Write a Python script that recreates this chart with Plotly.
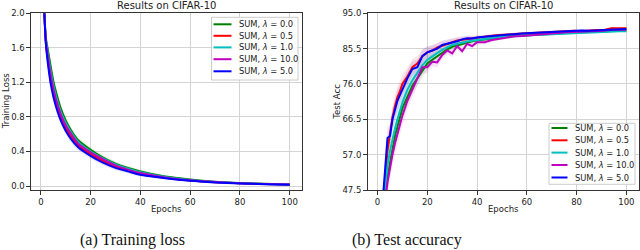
import plotly.graph_objects as go

# ---------------- data ----------------
SERIES = ["SUM, <i>λ</i> = 0.0", "SUM, <i>λ</i> = 0.5", "SUM, <i>λ</i> = 1.0",
          "SUM, <i>λ</i> = 10.0", "SUM, <i>λ</i> = 5.0"]
COLORS = ["#008000", "#ff0000", "#00bfbf", "#bf00bf", "#0000ff"]

LOSS_EPOCHS = [1, 2, 3, 4, 5, 6, 8, 10, 12, 15, 20, 25, 30, 35, 40, 50, 60, 70, 80, 90, 100]
LOSS_0 = [2.30, 1.72, 1.55, 1.38, 1.22, 1.10, 0.90, 0.76, 0.65, 0.53, 0.42, 0.33, 0.26, 0.21, 0.17, 0.11, 0.075, 0.050, 0.035, 0.025, 0.018]
LOSS_05 = [2.30, 1.67, 1.42, 1.22, 1.08, 0.96, 0.79, 0.67, 0.58, 0.47, 0.37, 0.29, 0.22, 0.18, 0.14, 0.095, 0.063, 0.044, 0.031, 0.023, 0.017]
LOSS_1 = [2.30, 1.70, 1.50, 1.32, 1.17, 1.05, 0.86, 0.73, 0.63, 0.51, 0.40, 0.32, 0.25, 0.20, 0.16, 0.105, 0.070, 0.048, 0.033, 0.024, 0.017]
LOSS_10 = [2.30, 1.69, 1.47, 1.28, 1.13, 1.01, 0.83, 0.70, 0.61, 0.49, 0.39, 0.31, 0.24, 0.19, 0.15, 0.100, 0.067, 0.046, 0.032, 0.024, 0.017]
LOSS_5 = [2.30, 1.65, 1.38, 1.18, 1.04, 0.93, 0.76, 0.64, 0.55, 0.45, 0.35, 0.27, 0.21, 0.17, 0.13, 0.090, 0.060, 0.042, 0.030, 0.022, 0.016]
LOSS_STD = [0.05, 0.05, 0.05, 0.05, 0.05, 0.05, 0.045, 0.04, 0.04, 0.035, 0.03, 0.028, 0.025, 0.022, 0.02, 0.015, 0.012, 0.01, 0.008, 0.006, 0.005]

ACC_EPOCHS = [1, 2, 3, 4, 5, 6, 7, 8, 9, 10, 12, 14, 16, 18, 20, 22, 24, 26, 28, 30, 32, 34, 36, 38, 40,
              43, 46, 49, 52, 55, 58, 61, 64, 67, 70, 73, 76, 79, 82, 85, 88, 91, 94, 97, 100]
ACC_0 = [32, 40, 46, 51, 55, 59, 62, 64.5, 67, 69.5, 72.5, 75.5, 77.5, 79.5, 81.5, 82.5, 83.5, 84.5, 85.3, 86.0,
         86.4, 86.8, 87.2, 87.5, 87.7, 88.0, 88.3, 88.6, 88.8, 88.9, 89.0, 89.2, 89.3, 89.4, 89.5, 89.6, 89.8,
         89.9, 90.0, 90.0, 90.1, 90.2, 90.4, 90.4, 90.4]
ACC_05 = [34, 43, 50, 58, 63, 67, 70, 72.5, 74, 76, 78, 80.5, 81.5, 83.5, 84.5, 85.0, 85.8, 86.3, 86.8, 87.4,
          87.7, 87.9, 88.1, 88.4, 88.6, 88.8, 89.0, 89.2, 89.3, 89.5, 89.6, 89.7, 89.8, 89.9, 90.0, 90.1, 90.3,
          90.3, 90.2, 90.4, 90.5, 90.5, 91.0, 91.0, 91.0]
ACC_1 = [33, 42, 48, 54, 58, 61.5, 64, 66.5, 69, 71, 74.5, 77, 79, 81, 82.5, 83.5, 84.3, 85.2, 85.8, 86.5,
         86.8, 87.2, 87.4, 87.6, 87.8, 88.1, 88.4, 88.6, 88.7, 88.9, 89.0, 89.1, 89.2, 89.3, 89.4, 89.6, 89.6,
         89.8, 89.7, 89.9, 89.9, 90.0, 90.2, 90.2, 90.2]
ACC_10 = [30, 38, 44, 49.5, 53.5, 57, 60, 62.5, 65, 67.5, 71.5, 74.5, 77.5, 80.5, 80.5, 82.0, 81.8, 83.8, 85.0, 84.2,
          86.2, 84.8, 86.8, 86.2, 87.2, 87.2, 87.8, 88.2, 88.5, 88.8, 88.9, 89.1, 89.3, 89.4, 89.5, 89.7, 89.9,
          90.0, 90.1, 90.0, 90.2, 90.3, 90.6, 90.6, 90.6]
ACC_5 = [35, 44, 52, 61.5, 62, 66.5, 69, 71.5, 73, 74.5, 77.5, 80, 80.5, 83.5, 84.5, 85.0, 85.5, 86.5, 86.8, 87.2,
         87.5, 88.0, 88.3, 88.2, 88.5, 88.7, 88.9, 89.2, 89.4, 89.4, 89.6, 89.7, 89.9, 90.0, 90.1, 90.0, 90.2,
         90.3, 90.4, 90.3, 90.4, 90.5, 90.8, 90.8, 90.8]
ACC_STD = [3, 3, 3, 3, 3, 3, 3, 3, 2.8, 2.6, 2.4, 2.2, 2.0, 1.8, 1.6, 1.4, 1.3, 1.2, 1.1, 1.0, 0.9, 0.8, 0.7, 0.7, 0.6,
           0.5, 0.5, 0.4, 0.4, 0.4, 0.35, 0.35, 0.3, 0.3, 0.3, 0.3, 0.3, 0.3, 0.3, 0.3, 0.3, 0.3, 0.3, 0.3, 0.3]

LOSS_TICKS = [0.0, 0.4, 0.8, 1.2, 1.6, 2.0]
ACC_TICKS = [47.5, 57.0, 66.5, 76.0, 85.5, 95.0]
X_TICKS = [0, 20, 40, 60, 80, 100]

TITLE = "Results on CIFAR-10"
CAPTIONS = ["(a) Training loss", "(b) Test accuracy"]

LOSS = [LOSS_0, LOSS_05, LOSS_1, LOSS_10, LOSS_5]
ACC = [ACC_0, ACC_05, ACC_1, ACC_10, ACC_5]

W, H = 640, 250


def px_x(p):
    return p / W


def px_y(p):
    return 1 - p / H


def rgba(hexc, a):
    h = hexc.lstrip("#")
    return "rgba(%d,%d,%d,%.3f)" % (int(h[0:2], 16), int(h[2:4], 16), int(h[4:6], 16), a)


fig = go.Figure()

# bands
for ys, col in zip(LOSS, COLORS):
    up = [v + s for v, s in zip(ys, LOSS_STD)]
    lo = [v - s for v, s in zip(ys, LOSS_STD)]
    fig.add_trace(go.Scatter(x=LOSS_EPOCHS + LOSS_EPOCHS[::-1], y=up + lo[::-1], fill="toself",
                             fillcolor=rgba(col, 0.11), line=dict(width=0, shape="spline", smoothing=0.6),
                             hoverinfo="skip", showlegend=False, xaxis="x", yaxis="y"))
for ys, col in zip(ACC, COLORS):
    up = [v + s for v, s in zip(ys, ACC_STD)]
    lo = [v - s for v, s in zip(ys, ACC_STD)]
    fig.add_trace(go.Scatter(x=ACC_EPOCHS + ACC_EPOCHS[::-1], y=up + lo[::-1], fill="toself",
                             fillcolor=rgba(col, 0.10), line=dict(width=0), hoverinfo="skip",
                             showlegend=False, xaxis="x2", yaxis="y2"))

# lines
for name, ys, col in zip(SERIES, LOSS, COLORS):
    fig.add_trace(go.Scatter(x=LOSS_EPOCHS, y=ys, mode="lines", name=name, showlegend=False,
                             line=dict(color=col, width=2, shape="spline", smoothing=0.6),
                             xaxis="x", yaxis="y"))
for name, ys, col in zip(SERIES, ACC, COLORS):
    fig.add_trace(go.Scatter(x=ACC_EPOCHS, y=ys, mode="lines", name=name, showlegend=False,
                             line=dict(color=col, width=2),
                             xaxis="x2", yaxis="y2"))

axis_common = dict(showline=True, linecolor="#333", linewidth=1.2, mirror=True, automargin=False,
                   showgrid=True, gridcolor="#d4d4d4", gridwidth=1.3, zeroline=False,
                   ticks="outside", ticklen=3.5, tickcolor="#333",
                   tickfont=dict(family="DejaVu Sans", size=8.5, color="#222"))

shapes = []
annotations = []

# panel titles, axis titles, captions
LX0, LX1 = 31, 302
RX0, RX1 = 367.7, 638.7
TOP, BOT = 13.3, 190
for cx in [(LX0 + LX1) / 2, (RX0 + RX1) / 2]:
    annotations.append(dict(text=TITLE, x=px_x(cx), y=px_y(5.5), xref="paper", yref="paper",
                            xanchor="center", yanchor="middle", showarrow=False,
                            font=dict(family="DejaVu Sans", size=10, color="#222")))
    annotations.append(dict(text="Epochs", x=px_x(cx), y=px_y(209), xref="paper", yref="paper",
                            xanchor="center", yanchor="middle", showarrow=False,
                            font=dict(family="DejaVu Sans", size=8.5, color="#222")))
annotations.append(dict(text="Training Loss", x=px_x(5.5), y=px_y((TOP + BOT) / 2), xref="paper", yref="paper",
                        xanchor="center", yanchor="middle", showarrow=False, textangle=-90,
                        font=dict(family="DejaVu Sans", size=8.5, color="#222")))
annotations.append(dict(text="Test Acc", x=px_x(337), y=px_y((TOP + BOT) / 2), xref="paper", yref="paper",
                        xanchor="center", yanchor="middle", showarrow=False, textangle=-90,
                        font=dict(family="DejaVu Sans", size=8.5, color="#222")))
for cap, cx in zip(CAPTIONS, [132, 407]):
    annotations.append(dict(text=cap, x=px_x(cx), y=px_y(240), xref="paper", yref="paper",
                            xanchor="center", yanchor="middle", showarrow=False,
                            font=dict(family="Liberation Serif", size=16, color="#111")))


# manual legends (box, line samples, labels)
def add_legend(x0, y0, x1, y1, rows, line_x0, line_x1, text_x):
    shapes.append(dict(type="rect", xref="paper", yref="paper",
                       x0=px_x(x0), x1=px_x(x1), y0=px_y(y1), y1=px_y(y0),
                       line=dict(color="#cccccc", width=1), fillcolor="rgba(255,255,255,0.85)",
                       layer="above"))
    for name, col, ry in zip(SERIES, COLORS, rows):
        shapes.append(dict(type="line", xref="paper", yref="paper",
                           x0=px_x(line_x0), x1=px_x(line_x1), y0=px_y(ry), y1=px_y(ry),
                           line=dict(color=col, width=2), layer="above"))
        annotations.append(dict(text=name, x=px_x(text_x), y=px_y(ry), xref="paper", yref="paper",
                                xanchor="left", yanchor="middle", showarrow=False,
                                font=dict(family="DejaVu Sans", size=8.3, color="#222")))


add_legend(211.5, 17.3, 298, 80, [24.3, 35.8, 47.4, 59.2, 71.3], 213.5, 231.5, 236.5)
add_legend(549, 123.3, 635, 184.3, [128, 140.3, 152.6, 165, 177.5], 551.5, 567.5, 573)

fig.update_layout(
    width=W, height=H, margin=dict(l=0, r=0, t=0, b=0),
    paper_bgcolor="white", plot_bgcolor="white", showlegend=False,
    xaxis=dict(domain=[px_x(LX0), px_x(LX1)], range=[-3.95, 104.95], tickvals=X_TICKS,
               anchor="y", **axis_common),
    yaxis=dict(domain=[px_y(BOT), px_y(TOP)], range=[-0.046, 2.0], tickvals=LOSS_TICKS,
               tickformat=".1f", anchor="x", **axis_common),
    xaxis2=dict(domain=[px_x(RX0), px_x(RX1)], range=[-3.95, 104.95], tickvals=X_TICKS,
                anchor="y2", **axis_common),
    yaxis2=dict(domain=[px_y(BOT), px_y(TOP)], range=[47.5, 95.0], tickvals=ACC_TICKS,
                tickformat=".1f", anchor="x2", **axis_common),
    shapes=shapes,
    annotations=annotations,
)

fig.write_html("out.html", config={"displayModeBar": False},
               post_script="document.body.style.margin='0px';document.body.style.padding='0px';"
                           "document.body.style.overflow='hidden';")
